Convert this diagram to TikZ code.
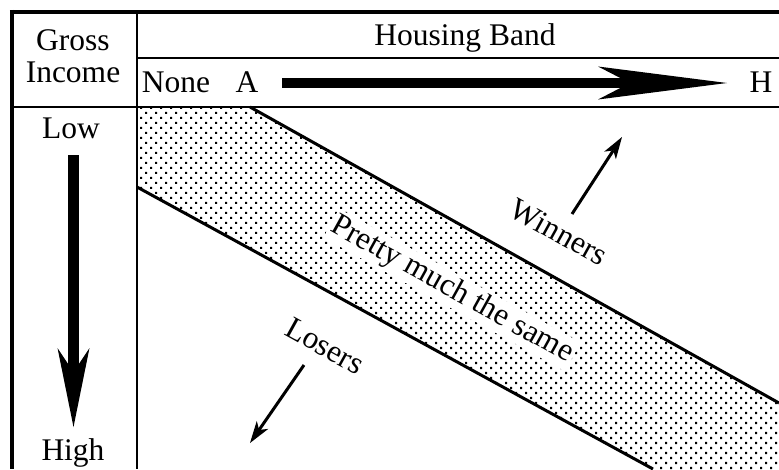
\documentclass[tikz,border=0pt]{standalone}
\usepackage{fontspec}
\setmainfont{Liberation Serif}
\usetikzlibrary{arrows.meta,patterns}
\pgfdeclarepatternformonly{sqdots}{\pgfqpoint{-1pt}{-1pt}}{\pgfqpoint{11pt}{11pt}}{\pgfqpoint{10pt}{10pt}}{%
  \pgfpathrectangle{\pgfqpoint{0pt}{0pt}}{\pgfqpoint{2.2pt}{2.2pt}}%
  \pgfpathrectangle{\pgfqpoint{5pt}{5pt}}{\pgfqpoint{2.2pt}{2.2pt}}%
  \pgfusepath{fill}}
\tikzset{
  lbl/.style={font=\fontsize{31.5}{36}\selectfont, inner sep=0pt, anchor=base},
  rlbl/.style={font=\fontsize{31.5}{36}\selectfont, inner sep=2pt, rotate=-29},
  thickrule/.style={line width=4.5pt},
  thinrule/.style={line width=2pt},
  bandline/.style={line width=3pt},
  bigarrow/.style={line width=10pt, -{Stealth[length=129pt, width=33pt, inset=32pt, line width=0pt]}},
  vbigarrow/.style={line width=11pt, -{Stealth[length=79pt, width=32pt, inset=24pt, line width=0pt]}},
  smallarrow/.style={line width=3pt, -{Stealth[length=22pt, width=14pt, inset=6pt, line width=0pt]}},
}
\begin{document}
\begin{tikzpicture}[x=1pt,y=-1pt]
\useasboundingbox (0,0) rectangle (779,469);
% dotted band
\fill[pattern=sqdots] (137,107) -- (250,107) -- (779,403) -- (779,469) -- (653,469) -- (137,187) -- cycle;
\draw[bandline] (250,107) -- (779,403);
\draw[bandline] (137,187) -- (653,469);
% table rules
\draw[thinrule] (137,12) -- (137,469);
\draw[thinrule] (137,58) -- (779,58);
\draw[thinrule] (12,107) -- (779,107);
\draw[thickrule] (9.75,12) -- (779,12);
\draw[thickrule] (12,9.75) -- (12,469);
% header texts
\node[lbl] (gross) at (73,50) {Gross};
\node[lbl] (income) at (73,82) {Income};
\node[lbl] (housing) at (465,45) {Housing Band};
\node[lbl] (none) at (176,92) {None};
\node[lbl] (A) at (247,92) {A};
\node[lbl] (H) at (761,92) {H};
\node[lbl] (low) at (71,138) {Low};
\node[lbl] (high) at (73,460) {High};
% big arrows
\coordinate (hs) at (282,83);
\coordinate (he) at (727,83);
\draw[bigarrow] (hs) -- (he);
\coordinate (vs) at (73.5,155);
\coordinate (ve) at (73.5,427);
\draw[vbigarrow] (vs) -- (ve);
% band text
\node[rlbl, fill=white] (same) at (452,290) {Pretty much the same};
\node[rlbl] (winners) at (559,232) {Winners};
\node[rlbl] (losers) at (325,346) {Losers};
\coordinate (ws) at (572,214);
\coordinate (we) at (622,137);
\draw[smallarrow] (ws) -- (we);
\coordinate (ls) at (304,365);
\coordinate (le) at (250,443);
\draw[smallarrow] (ls) -- (le);
\end{tikzpicture}
\end{document}
